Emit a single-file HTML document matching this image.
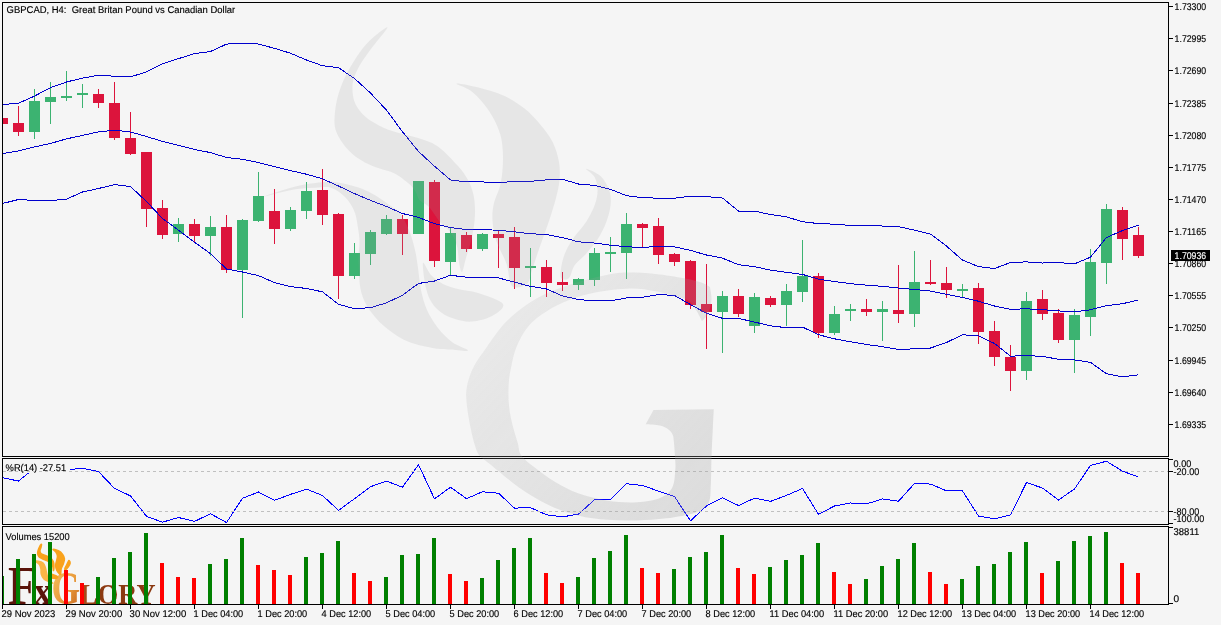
<!DOCTYPE html>
<html><head><meta charset="utf-8"><title>GBPCAD H4</title>
<style>html,body{margin:0;padding:0;background:#f5f5f5;width:1221px;height:625px;overflow:hidden;position:relative}
text{white-space:pre}</style></head>
<body>
<svg width="1221" height="625" viewBox="0 0 1221 625" style="position:absolute;left:0;top:0;will-change:transform">
<defs><clipPath id="cm"><rect x="3" y="3" width="1165" height="453"/></clipPath><clipPath id="cw"><rect x="3" y="459" width="1165" height="65"/></clipPath><clipPath id="cwm"><rect x="3" y="3" width="1165" height="521"/></clipPath><clipPath id="cv"><rect x="3" y="527" width="1165" height="77"/></clipPath></defs>
<g clip-path="url(#cm)">
<g shape-rendering="crispEdges">
<rect x="-3" y="118" width="11" height="6" fill="#dc143c"/>
<rect x="18" y="106" width="1" height="30" fill="#dc143c"/>
<rect x="13" y="123" width="11" height="9" fill="#dc143c"/>
<rect x="34" y="89" width="1" height="50" fill="#3cb371"/>
<rect x="29" y="101" width="11" height="31" fill="#3cb371"/>
<rect x="50" y="82" width="1" height="42" fill="#3cb371"/>
<rect x="45" y="97" width="11" height="5" fill="#3cb371"/>
<rect x="66" y="71" width="1" height="30" fill="#3cb371"/>
<rect x="61" y="96" width="11" height="2" fill="#3cb371"/>
<rect x="82" y="84" width="1" height="24" fill="#3cb371"/>
<rect x="77" y="93" width="11" height="2" fill="#3cb371"/>
<rect x="98" y="89" width="1" height="19" fill="#dc143c"/>
<rect x="93" y="94" width="11" height="9" fill="#dc143c"/>
<rect x="114" y="82" width="1" height="58" fill="#dc143c"/>
<rect x="109" y="103" width="11" height="35" fill="#dc143c"/>
<rect x="130" y="112" width="1" height="43" fill="#dc143c"/>
<rect x="125" y="138" width="11" height="16" fill="#dc143c"/>
<rect x="146" y="152" width="1" height="75" fill="#dc143c"/>
<rect x="141" y="152" width="11" height="57" fill="#dc143c"/>
<rect x="162" y="200" width="1" height="39" fill="#dc143c"/>
<rect x="157" y="208" width="11" height="27" fill="#dc143c"/>
<rect x="178" y="218" width="1" height="24" fill="#3cb371"/>
<rect x="173" y="224" width="11" height="10" fill="#3cb371"/>
<rect x="194" y="219" width="1" height="24" fill="#dc143c"/>
<rect x="189" y="224" width="11" height="12" fill="#dc143c"/>
<rect x="210" y="216" width="1" height="40" fill="#3cb371"/>
<rect x="205" y="227" width="11" height="9" fill="#3cb371"/>
<rect x="226" y="215" width="1" height="58" fill="#dc143c"/>
<rect x="221" y="227" width="11" height="43" fill="#dc143c"/>
<rect x="242" y="219" width="1" height="99" fill="#3cb371"/>
<rect x="237" y="220" width="11" height="50" fill="#3cb371"/>
<rect x="258" y="172" width="1" height="50" fill="#3cb371"/>
<rect x="253" y="196" width="11" height="25" fill="#3cb371"/>
<rect x="274" y="189" width="1" height="55" fill="#dc143c"/>
<rect x="269" y="211" width="11" height="18" fill="#dc143c"/>
<rect x="290" y="207" width="1" height="24" fill="#3cb371"/>
<rect x="285" y="210" width="11" height="19" fill="#3cb371"/>
<rect x="306" y="182" width="1" height="37" fill="#3cb371"/>
<rect x="301" y="191" width="11" height="20" fill="#3cb371"/>
<rect x="322" y="169" width="1" height="56" fill="#dc143c"/>
<rect x="317" y="190" width="11" height="25" fill="#dc143c"/>
<rect x="338" y="213" width="1" height="86" fill="#dc143c"/>
<rect x="333" y="214" width="11" height="62" fill="#dc143c"/>
<rect x="354" y="243" width="1" height="36" fill="#3cb371"/>
<rect x="349" y="253" width="11" height="23" fill="#3cb371"/>
<rect x="370" y="230" width="1" height="35" fill="#3cb371"/>
<rect x="365" y="232" width="11" height="22" fill="#3cb371"/>
<rect x="386" y="215" width="1" height="20" fill="#3cb371"/>
<rect x="381" y="219" width="11" height="15" fill="#3cb371"/>
<rect x="402" y="215" width="1" height="40" fill="#dc143c"/>
<rect x="397" y="219" width="11" height="15" fill="#dc143c"/>
<rect x="418" y="181" width="1" height="53" fill="#3cb371"/>
<rect x="413" y="181" width="11" height="53" fill="#3cb371"/>
<rect x="434" y="180" width="1" height="87" fill="#dc143c"/>
<rect x="429" y="182" width="11" height="79" fill="#dc143c"/>
<rect x="450" y="228" width="1" height="48" fill="#3cb371"/>
<rect x="445" y="233" width="11" height="29" fill="#3cb371"/>
<rect x="466" y="232" width="1" height="20" fill="#dc143c"/>
<rect x="461" y="235" width="11" height="14" fill="#dc143c"/>
<rect x="482" y="233" width="1" height="18" fill="#3cb371"/>
<rect x="477" y="234" width="11" height="15" fill="#3cb371"/>
<rect x="498" y="231" width="1" height="37" fill="#dc143c"/>
<rect x="493" y="234" width="11" height="4" fill="#dc143c"/>
<rect x="514" y="227" width="1" height="62" fill="#dc143c"/>
<rect x="509" y="237" width="11" height="31" fill="#dc143c"/>
<rect x="530" y="248" width="1" height="49" fill="#3cb371"/>
<rect x="525" y="266" width="11" height="2" fill="#3cb371"/>
<rect x="546" y="260" width="1" height="37" fill="#dc143c"/>
<rect x="541" y="267" width="11" height="16" fill="#dc143c"/>
<rect x="562" y="272" width="1" height="19" fill="#dc143c"/>
<rect x="557" y="282" width="11" height="3" fill="#dc143c"/>
<rect x="578" y="278" width="1" height="12" fill="#3cb371"/>
<rect x="573" y="279" width="11" height="6" fill="#3cb371"/>
<rect x="594" y="248" width="1" height="38" fill="#3cb371"/>
<rect x="589" y="253" width="11" height="27" fill="#3cb371"/>
<rect x="610" y="237" width="1" height="35" fill="#3cb371"/>
<rect x="605" y="252" width="11" height="2" fill="#3cb371"/>
<rect x="626" y="213" width="1" height="66" fill="#3cb371"/>
<rect x="621" y="224" width="11" height="29" fill="#3cb371"/>
<rect x="642" y="223" width="1" height="24" fill="#dc143c"/>
<rect x="637" y="224" width="11" height="4" fill="#dc143c"/>
<rect x="658" y="218" width="1" height="46" fill="#dc143c"/>
<rect x="653" y="226" width="11" height="29" fill="#dc143c"/>
<rect x="674" y="253" width="1" height="13" fill="#dc143c"/>
<rect x="669" y="254" width="11" height="8" fill="#dc143c"/>
<rect x="690" y="260" width="1" height="49" fill="#dc143c"/>
<rect x="685" y="261" width="11" height="44" fill="#dc143c"/>
<rect x="706" y="264" width="1" height="85" fill="#dc143c"/>
<rect x="701" y="304" width="11" height="8" fill="#dc143c"/>
<rect x="722" y="291" width="1" height="62" fill="#3cb371"/>
<rect x="717" y="296" width="11" height="16" fill="#3cb371"/>
<rect x="738" y="289" width="1" height="28" fill="#dc143c"/>
<rect x="733" y="296" width="11" height="18" fill="#dc143c"/>
<rect x="754" y="293" width="1" height="40" fill="#3cb371"/>
<rect x="749" y="297" width="11" height="29" fill="#3cb371"/>
<rect x="770" y="296" width="1" height="11" fill="#dc143c"/>
<rect x="765" y="298" width="11" height="7" fill="#dc143c"/>
<rect x="786" y="284" width="1" height="42" fill="#3cb371"/>
<rect x="781" y="291" width="11" height="14" fill="#3cb371"/>
<rect x="802" y="240" width="1" height="62" fill="#3cb371"/>
<rect x="797" y="276" width="11" height="16" fill="#3cb371"/>
<rect x="818" y="273" width="1" height="65" fill="#dc143c"/>
<rect x="813" y="276" width="11" height="57" fill="#dc143c"/>
<rect x="834" y="306" width="1" height="29" fill="#3cb371"/>
<rect x="829" y="314" width="11" height="19" fill="#3cb371"/>
<rect x="850" y="304" width="1" height="17" fill="#3cb371"/>
<rect x="845" y="309" width="11" height="2" fill="#3cb371"/>
<rect x="866" y="299" width="1" height="17" fill="#dc143c"/>
<rect x="861" y="309" width="11" height="3" fill="#dc143c"/>
<rect x="882" y="301" width="1" height="40" fill="#3cb371"/>
<rect x="877" y="309" width="11" height="3" fill="#3cb371"/>
<rect x="898" y="265" width="1" height="58" fill="#dc143c"/>
<rect x="893" y="310" width="11" height="4" fill="#dc143c"/>
<rect x="914" y="251" width="1" height="76" fill="#3cb371"/>
<rect x="909" y="282" width="11" height="32" fill="#3cb371"/>
<rect x="930" y="260" width="1" height="25" fill="#dc143c"/>
<rect x="925" y="282" width="11" height="2" fill="#dc143c"/>
<rect x="946" y="267" width="1" height="31" fill="#dc143c"/>
<rect x="941" y="283" width="11" height="7" fill="#dc143c"/>
<rect x="962" y="284" width="1" height="14" fill="#3cb371"/>
<rect x="957" y="289" width="11" height="2" fill="#3cb371"/>
<rect x="978" y="283" width="1" height="61" fill="#dc143c"/>
<rect x="973" y="288" width="11" height="44" fill="#dc143c"/>
<rect x="994" y="321" width="1" height="45" fill="#dc143c"/>
<rect x="989" y="331" width="11" height="26" fill="#dc143c"/>
<rect x="1010" y="345" width="1" height="46" fill="#dc143c"/>
<rect x="1005" y="357" width="11" height="14" fill="#dc143c"/>
<rect x="1026" y="292" width="1" height="88" fill="#3cb371"/>
<rect x="1021" y="301" width="11" height="70" fill="#3cb371"/>
<rect x="1042" y="290" width="1" height="30" fill="#dc143c"/>
<rect x="1037" y="299" width="11" height="15" fill="#dc143c"/>
<rect x="1058" y="309" width="1" height="34" fill="#dc143c"/>
<rect x="1053" y="313" width="11" height="27" fill="#dc143c"/>
<rect x="1074" y="309" width="1" height="64" fill="#3cb371"/>
<rect x="1069" y="315" width="11" height="25" fill="#3cb371"/>
<rect x="1090" y="249" width="1" height="87" fill="#3cb371"/>
<rect x="1085" y="262" width="11" height="55" fill="#3cb371"/>
<rect x="1106" y="204" width="1" height="80" fill="#3cb371"/>
<rect x="1101" y="209" width="11" height="54" fill="#3cb371"/>
<rect x="1122" y="207" width="1" height="53" fill="#dc143c"/>
<rect x="1117" y="210" width="11" height="29" fill="#dc143c"/>
<rect x="1138" y="227" width="1" height="31" fill="#dc143c"/>
<rect x="1133" y="235" width="11" height="21" fill="#dc143c"/>
</g>
<g fill="none" stroke="#0000cd" stroke-width="1" shape-rendering="crispEdges">
<polyline points="2.5,104.50 18.5,103.22 34.5,96.10 50.5,87.69 66.5,82.00 82.5,78.07 98.5,75.30 114.5,76.22 130.5,76.89 146.5,71.87 162.5,63.74 178.5,58.65 194.5,53.59 210.5,51.51 226.5,44.12 242.5,43.06 258.5,44.06 274.5,48.37 290.5,53.23 306.5,60.01 322.5,65.76 338.5,67.71 354.5,78.51 370.5,93.03 386.5,110.15 402.5,131.77 418.5,151.44 434.5,166.17 450.5,179.94 466.5,181.96 482.5,181.96 498.5,182.55 514.5,181.48 530.5,181.28 546.5,179.90 562.5,179.36 578.5,184.01 594.5,185.38 610.5,189.35 626.5,195.68 642.5,197.68 658.5,198.18 674.5,198.22 690.5,196.24 706.5,196.65 722.5,198.01 738.5,211.08 754.5,211.13 770.5,214.52 786.5,216.86 802.5,221.73 818.5,223.59 834.5,224.17 850.5,225.51 866.5,225.71 882.5,226.02 898.5,226.68 914.5,230.13 930.5,234.05 946.5,246.12 962.5,260.05 978.5,266.60 994.5,268.52 1010.5,262.47 1026.5,261.87 1042.5,263.02 1058.5,262.55 1074.5,263.82 1090.5,257.16 1106.5,237.52 1122.5,230.54 1138.5,225.06"/>
<polyline points="2.5,153.62 18.5,150.85 34.5,146.91 50.5,143.43 66.5,138.89 82.5,135.41 98.5,131.83 114.5,130.20 130.5,132.03 146.5,136.48 162.5,141.43 178.5,145.48 194.5,149.49 210.5,152.59 226.5,157.52 242.5,159.26 258.5,162.56 274.5,166.57 290.5,170.57 306.5,174.25 322.5,178.80 338.5,186.00 354.5,193.60 370.5,200.35 386.5,206.50 402.5,213.50 418.5,217.45 434.5,223.60 450.5,227.60 466.5,229.60 482.5,229.60 498.5,230.25 514.5,231.85 530.5,233.80 546.5,234.45 562.5,237.65 578.5,241.80 594.5,243.05 610.5,245.15 626.5,246.80 642.5,247.45 658.5,246.40 674.5,246.80 690.5,250.40 706.5,255.00 722.5,258.15 738.5,264.75 754.5,266.60 770.5,270.15 786.5,272.30 802.5,274.40 818.5,279.15 834.5,281.50 850.5,283.65 866.5,285.10 882.5,286.35 898.5,288.05 914.5,289.50 930.5,291.05 946.5,294.30 962.5,297.40 978.5,301.25 994.5,306.00 1010.5,309.30 1026.5,308.80 1042.5,309.65 1058.5,310.95 1074.5,311.85 1090.5,309.75 1106.5,305.65 1122.5,303.75 1138.5,299.90"/>
<polyline points="2.5,203.50 18.5,199.50 34.5,200.50 50.5,200.50 66.5,199.20 82.5,192.00 98.5,188.50 114.5,184.60 130.5,186.50 146.5,201.50 162.5,218.50 178.5,230.13 194.5,242.22 210.5,253.63 226.5,269.01 242.5,272.00 258.5,275.62 274.5,282.58 290.5,286.56 306.5,288.49 322.5,291.84 338.5,304.29 354.5,308.69 370.5,307.67 386.5,302.85 402.5,295.23 418.5,283.46 434.5,281.03 450.5,275.26 466.5,277.24 482.5,277.24 498.5,277.95 514.5,282.22 530.5,286.32 546.5,289.00 562.5,295.94 578.5,299.59 594.5,300.72 610.5,300.95 626.5,297.92 642.5,297.22 658.5,294.62 674.5,295.38 690.5,304.56 706.5,313.35 722.5,318.29 738.5,318.42 754.5,322.07 770.5,325.78 786.5,327.74 802.5,327.07 818.5,334.71 834.5,338.83 850.5,341.79 866.5,344.49 882.5,346.68 898.5,349.42 914.5,348.87 930.5,348.05 946.5,342.48 962.5,334.75 978.5,335.90 994.5,343.48 1010.5,356.13 1026.5,355.73 1042.5,356.28 1058.5,359.35 1074.5,359.88 1090.5,362.34 1106.5,373.78 1122.5,376.96 1138.5,374.74"/>
</g>
</g>
<g fill="none" stroke="#000" stroke-width="1" shape-rendering="crispEdges">
<rect x="2.5" y="2.5" width="1166" height="454"/>
<rect x="2.5" y="458.5" width="1166" height="66"/>
<rect x="2.5" y="526.5" width="1166" height="78"/>
</g>
<g shape-rendering="crispEdges" fill="#000">
<rect x="1169" y="6" width="4" height="1"/>
<rect x="1169" y="38" width="4" height="1"/>
<rect x="1169" y="70" width="4" height="1"/>
<rect x="1169" y="103" width="4" height="1"/>
<rect x="1169" y="135" width="4" height="1"/>
<rect x="1169" y="167" width="4" height="1"/>
<rect x="1169" y="199" width="4" height="1"/>
<rect x="1169" y="231" width="4" height="1"/>
<rect x="1169" y="263" width="4" height="1"/>
<rect x="1169" y="295" width="4" height="1"/>
<rect x="1169" y="327" width="4" height="1"/>
<rect x="1169" y="360" width="4" height="1"/>
<rect x="1169" y="392" width="4" height="1"/>
<rect x="1169" y="424" width="4" height="1"/>
<rect x="1169" y="459" width="4" height="1"/>
<rect x="1169" y="471" width="4" height="1"/>
<rect x="1169" y="511" width="4" height="1"/>
<rect x="1169" y="523" width="4" height="1"/>
<rect x="1169" y="527" width="4" height="1"/>
<rect x="1169" y="603" width="4" height="1"/>
<rect x="2" y="605" width="1" height="4"/>
<rect x="66" y="605" width="1" height="4"/>
<rect x="130" y="605" width="1" height="4"/>
<rect x="194" y="605" width="1" height="4"/>
<rect x="258" y="605" width="1" height="4"/>
<rect x="322" y="605" width="1" height="4"/>
<rect x="386" y="605" width="1" height="4"/>
<rect x="450" y="605" width="1" height="4"/>
<rect x="514" y="605" width="1" height="4"/>
<rect x="578" y="605" width="1" height="4"/>
<rect x="642" y="605" width="1" height="4"/>
<rect x="706" y="605" width="1" height="4"/>
<rect x="770" y="605" width="1" height="4"/>
<rect x="834" y="605" width="1" height="4"/>
<rect x="898" y="605" width="1" height="4"/>
<rect x="962" y="605" width="1" height="4"/>
<rect x="1026" y="605" width="1" height="4"/>
<rect x="1090" y="605" width="1" height="4"/>
</g>
<text text-rendering="geometricPrecision" x="1174.6" y="10.30" font-family="'Liberation Sans', Arial, sans-serif" font-size="9.8px" fill="#000" stroke="#000" stroke-width="0.15" textLength="31.6" lengthAdjust="spacingAndGlyphs">1.73300</text>
<text text-rendering="geometricPrecision" x="1174.6" y="42.30" font-family="'Liberation Sans', Arial, sans-serif" font-size="9.8px" fill="#000" stroke="#000" stroke-width="0.15" textLength="31.6" lengthAdjust="spacingAndGlyphs">1.72995</text>
<text text-rendering="geometricPrecision" x="1174.6" y="74.30" font-family="'Liberation Sans', Arial, sans-serif" font-size="9.8px" fill="#000" stroke="#000" stroke-width="0.15" textLength="31.6" lengthAdjust="spacingAndGlyphs">1.72690</text>
<text text-rendering="geometricPrecision" x="1174.6" y="107.30" font-family="'Liberation Sans', Arial, sans-serif" font-size="9.8px" fill="#000" stroke="#000" stroke-width="0.15" textLength="31.6" lengthAdjust="spacingAndGlyphs">1.72385</text>
<text text-rendering="geometricPrecision" x="1174.6" y="139.30" font-family="'Liberation Sans', Arial, sans-serif" font-size="9.8px" fill="#000" stroke="#000" stroke-width="0.15" textLength="31.6" lengthAdjust="spacingAndGlyphs">1.72080</text>
<text text-rendering="geometricPrecision" x="1174.6" y="171.30" font-family="'Liberation Sans', Arial, sans-serif" font-size="9.8px" fill="#000" stroke="#000" stroke-width="0.15" textLength="31.6" lengthAdjust="spacingAndGlyphs">1.71775</text>
<text text-rendering="geometricPrecision" x="1174.6" y="203.30" font-family="'Liberation Sans', Arial, sans-serif" font-size="9.8px" fill="#000" stroke="#000" stroke-width="0.15" textLength="31.6" lengthAdjust="spacingAndGlyphs">1.71470</text>
<text text-rendering="geometricPrecision" x="1174.6" y="235.30" font-family="'Liberation Sans', Arial, sans-serif" font-size="9.8px" fill="#000" stroke="#000" stroke-width="0.15" textLength="31.6" lengthAdjust="spacingAndGlyphs">1.71165</text>
<text text-rendering="geometricPrecision" x="1174.6" y="267.30" font-family="'Liberation Sans', Arial, sans-serif" font-size="9.8px" fill="#000" stroke="#000" stroke-width="0.15" textLength="31.6" lengthAdjust="spacingAndGlyphs">1.70860</text>
<text text-rendering="geometricPrecision" x="1174.6" y="299.30" font-family="'Liberation Sans', Arial, sans-serif" font-size="9.8px" fill="#000" stroke="#000" stroke-width="0.15" textLength="31.6" lengthAdjust="spacingAndGlyphs">1.70555</text>
<text text-rendering="geometricPrecision" x="1174.6" y="331.30" font-family="'Liberation Sans', Arial, sans-serif" font-size="9.8px" fill="#000" stroke="#000" stroke-width="0.15" textLength="31.6" lengthAdjust="spacingAndGlyphs">1.70250</text>
<text text-rendering="geometricPrecision" x="1174.6" y="364.30" font-family="'Liberation Sans', Arial, sans-serif" font-size="9.8px" fill="#000" stroke="#000" stroke-width="0.15" textLength="31.6" lengthAdjust="spacingAndGlyphs">1.69945</text>
<text text-rendering="geometricPrecision" x="1174.6" y="396.30" font-family="'Liberation Sans', Arial, sans-serif" font-size="9.8px" fill="#000" stroke="#000" stroke-width="0.15" textLength="31.6" lengthAdjust="spacingAndGlyphs">1.69640</text>
<text text-rendering="geometricPrecision" x="1174.6" y="428.30" font-family="'Liberation Sans', Arial, sans-serif" font-size="9.8px" fill="#000" stroke="#000" stroke-width="0.15" textLength="31.6" lengthAdjust="spacingAndGlyphs">1.69335</text>
<rect x="1171" y="250" width="39" height="11" fill="#000" shape-rendering="crispEdges"/>
<text text-rendering="geometricPrecision" x="1174.6" y="259.30" font-family="'Liberation Sans', Arial, sans-serif" font-size="9.8px" fill="#fff" stroke="#fff" stroke-width="0.15" textLength="31.6" lengthAdjust="spacingAndGlyphs">1.70936</text>
<g clip-path="url(#cw)">
<polyline fill="none" stroke="#0000ff" stroke-width="1" shape-rendering="crispEdges" points="2.5,477.60 18.5,481.10 34.5,468.00 50.5,466.00 66.5,469.80 82.5,468.30 98.5,471.60 114.5,488.40 130.5,495.90 146.5,516.30 162.5,522.20 178.5,517.50 194.5,521.40 210.5,513.76 226.5,522.54 242.5,498.26 258.5,492.02 274.5,500.35 290.5,494.36 306.5,489.19 322.5,495.45 338.5,510.39 354.5,498.68 370.5,486.74 386.5,481.12 402.5,487.18 418.5,464.69 434.5,498.85 450.5,487.18 466.5,498.69 482.5,491.75 498.5,493.24 514.5,508.12 530.5,507.62 546.5,514.82 562.5,516.88 578.5,514.12 594.5,499.78 610.5,499.22 626.5,483.78 642.5,485.43 658.5,491.11 674.5,496.51 690.5,520.81 706.5,505.96 722.5,497.72 738.5,505.54 754.5,498.18 770.5,501.40 786.5,495.41 802.5,488.51 818.5,514.29 834.5,506.00 850.5,502.96 866.5,503.92 882.5,498.93 898.5,501.21 914.5,483.50 930.5,484.07 946.5,490.86 962.5,490.86 978.5,516.04 994.5,518.89 1010.5,514.97 1026.5,482.52 1042.5,488.05 1058.5,500.02 1074.5,488.97 1090.5,465.40 1106.5,461.22 1122.5,471.20 1138.5,477.05"/>
<rect x="3" y="459" width="67" height="14" fill="#f5f5f5"/>
<g stroke="#c0c0c0" stroke-width="1" stroke-dasharray="3 3" shape-rendering="crispEdges">
<line x1="3" y1="471.5" x2="1168" y2="471.5"/><line x1="3" y1="511.5" x2="1168" y2="511.5"/>
</g>
<text text-rendering="geometricPrecision" x="5.6" y="471.30" font-family="'Liberation Sans', Arial, sans-serif" font-size="9.8px" fill="#000" stroke="#000" stroke-width="0.15" textLength="60.6" lengthAdjust="spacingAndGlyphs">%R(14) -27.51</text>
</g>
<g clip-path="url(#cwm)"><defs><linearGradient id="wmg" gradientUnits="userSpaceOnUse" x1="470" y1="300" x2="712" y2="520"><stop offset="0" stop-color="#a0a0a0" stop-opacity="0.12"/><stop offset="1" stop-color="#a0a0a0" stop-opacity="0.30"/></linearGradient></defs><g fill="#a0a0a0" fill-opacity="0.170"><path d="M387.5,27.5 C387.1,29.3 378.1,39.6 373.6,45.6 C369.2,51.6 364.1,58.0 360.8,63.5 C357.5,69.0 355.1,74.2 353.7,78.9 C352.3,83.6 352.3,87.4 352.6,91.7 C352.9,96.0 353.5,100.2 355.7,104.5 C357.9,108.8 361.4,113.4 366.0,117.3 C370.6,121.2 377.5,124.9 383.6,127.7 C389.7,130.5 396.4,132.2 402.8,134.1 C409.2,136.0 415.9,137.1 421.9,139.2 C427.9,141.3 432.6,142.4 438.6,146.9 C444.6,151.4 453.1,160.5 458.0,166.0 C462.9,171.5 465.4,175.2 468.0,180.0 C470.6,184.8 472.3,189.3 473.5,195.0 C474.7,200.7 475.2,207.0 475.0,214.0 C474.8,221.0 473.5,229.7 472.0,237.0 C470.5,244.3 467.7,252.2 466.0,258.0 C464.3,263.8 463.2,271.3 462.0,272.0 C460.8,272.7 459.8,266.3 459.0,262.0 C458.2,257.7 458.3,250.8 457.0,246.0 C455.7,241.2 453.8,237.0 451.0,233.0 C448.2,229.0 443.7,226.3 440.0,222.0 C436.3,217.7 432.4,210.7 429.0,207.0 C425.6,203.3 421.6,202.6 419.4,200.0 C417.1,197.4 417.2,194.3 415.5,191.6 C413.8,188.9 412.6,187.0 409.2,184.0 C405.8,181.0 400.0,176.3 395.1,173.7 C390.2,171.1 384.8,170.5 379.7,168.6 C374.6,166.7 369.1,164.8 364.4,162.2 C359.7,159.6 355.2,156.5 351.6,153.3 C348.0,150.1 345.2,146.6 342.6,143.0 C340.0,139.4 337.6,135.3 336.2,131.5 C334.8,127.7 334.4,124.9 334.5,120.0 C334.6,115.1 335.2,108.0 336.5,102.0 C337.8,96.0 339.6,90.0 342.0,84.0 C344.4,78.0 347.5,72.0 351.0,66.0 C354.5,60.0 358.8,53.2 363.0,48.0 C367.2,42.8 371.9,38.4 376.0,35.0 C380.1,31.6 387.9,25.7 387.5,27.5Z"/><path d="M264.0,196.5 C264.0,196.3 271.8,193.6 276.0,192.2 C280.2,190.8 284.7,189.4 289.0,188.2 C293.3,187.0 297.6,185.9 302.0,185.0 C306.4,184.1 310.8,183.5 315.5,183.0 C320.2,182.5 324.6,181.6 330.0,181.8 C335.4,182.0 342.3,183.2 347.6,184.4 C352.9,185.6 357.2,186.8 362.0,188.7 C366.8,190.6 371.6,193.0 376.4,195.9 C381.2,198.8 386.9,203.1 390.8,206.0 C394.7,208.9 397.0,209.2 400.0,213.2 C403.0,217.2 406.5,223.9 409.0,230.0 C411.5,236.1 413.5,243.7 415.0,250.0 C416.5,256.3 417.0,261.3 418.0,268.0 C419.0,274.7 419.5,283.0 421.0,290.0 C422.5,297.0 424.2,303.7 427.0,310.0 C429.8,316.3 433.8,322.7 438.0,328.0 C442.2,333.3 447.0,338.2 452.0,342.0 C457.0,345.8 468.3,349.2 468.0,350.5 C467.7,351.8 455.7,349.9 450.0,349.5 C444.3,349.1 440.8,349.4 434.0,348.2 C427.2,346.9 416.6,345.1 409.0,342.0 C401.4,338.9 394.4,334.4 388.2,329.5 C382.0,324.6 376.1,319.1 371.6,312.8 C367.1,306.6 363.4,300.6 361.2,292.0 C359.0,283.4 358.8,269.3 358.5,261.0 C358.2,252.7 359.6,247.5 359.5,242.0 C359.4,236.5 358.8,232.8 358.0,228.0 C357.2,223.2 356.5,217.4 355.0,213.0 C353.5,208.6 351.4,205.0 349.0,201.7 C346.6,198.4 343.6,195.4 340.4,193.0 C337.2,190.6 334.1,188.3 330.0,187.4 C325.9,186.5 320.2,187.6 315.5,187.8 C310.8,188.0 306.4,188.0 302.0,188.4 C297.6,188.8 293.3,189.6 289.0,190.4 C284.7,191.2 280.2,192.4 276.0,193.4 C271.8,194.4 264.0,196.7 264.0,196.5Z"/><path d="M423.0,263.0 C423.8,260.8 427.7,271.5 431.0,275.0 C434.3,278.5 438.5,281.7 443.0,284.0 C447.5,286.3 452.2,287.5 458.0,289.0 C463.8,290.5 470.5,290.5 478.0,293.0 C485.5,295.5 500.7,300.2 503.0,304.0 C505.3,307.8 497.2,313.1 492.0,316.0 C486.8,318.9 478.2,321.1 472.0,321.6 C465.8,322.1 460.0,320.4 455.0,319.0 C450.0,317.6 445.8,315.7 442.0,313.0 C438.2,310.3 434.7,307.2 432.0,303.0 C429.3,298.8 427.5,294.7 426.0,288.0 C424.5,281.3 422.2,265.2 423.0,263.0Z"/><path d="M456.6,83.6 C457.9,83.1 470.5,85.6 478.4,87.6 C486.3,89.6 496.3,92.3 504.0,95.8 C511.7,99.3 518.5,103.9 524.5,108.6 C530.5,113.3 535.1,118.5 539.8,124.0 C544.5,129.6 549.4,135.6 552.6,141.9 C555.8,148.2 557.9,155.7 559.0,162.0 C560.1,168.3 560.0,174.0 559.5,180.0 C559.0,186.0 557.6,191.7 556.0,198.0 C554.4,204.3 552.2,211.3 550.0,218.0 C547.8,224.7 545.2,231.8 543.0,238.0 C540.8,244.2 538.8,249.7 537.0,255.0 C535.2,260.3 533.7,265.2 532.0,270.0 C530.3,274.8 530.3,281.3 527.0,284.0 C523.7,286.7 515.4,289.3 512.0,286.0 C508.6,282.7 509.2,271.5 506.6,264.0 C504.0,256.5 498.7,248.2 496.3,241.0 C493.9,233.8 492.9,226.8 492.5,220.5 C492.1,214.2 492.7,208.8 494.0,203.0 C495.3,197.2 498.8,191.3 500.2,185.4 C501.6,179.5 502.3,173.5 502.7,167.5 C503.1,161.5 503.1,155.2 502.7,149.6 C502.3,144.0 501.7,139.3 500.2,134.2 C498.7,129.1 496.6,124.0 493.8,118.9 C491.0,113.8 487.4,108.2 483.5,103.5 C479.6,98.8 475.2,94.0 470.7,90.7 C466.2,87.4 455.3,84.1 456.6,83.6Z"/><path d="M586.0,168.7 C587.0,168.5 596.6,172.4 600.5,176.0 C604.4,179.6 607.5,185.5 609.2,190.3 C610.9,195.1 611.1,199.5 610.6,204.8 C610.1,210.1 608.5,216.2 606.3,222.0 C604.1,227.8 601.0,234.0 597.6,239.3 C594.2,244.6 589.9,249.4 586.1,253.7 C582.3,258.0 577.5,261.2 574.6,265.3 C571.8,269.4 571.3,275.9 569.0,278.0 C566.7,280.1 562.2,280.1 561.0,278.0 C559.8,275.9 560.8,269.8 561.6,265.3 C562.4,260.8 563.8,255.7 566.0,250.9 C568.2,246.1 571.2,241.3 574.6,236.5 C578.0,231.7 582.7,227.3 586.1,222.0 C589.5,216.7 592.9,210.1 594.8,204.8 C596.7,199.5 597.6,194.9 597.6,190.3 C597.6,185.7 596.7,181.0 594.8,177.4 C592.9,173.8 585.0,168.9 586.0,168.7Z"/></g><path fill="url(#wmg)" d="M710.0,287.0 C708.6,286.3 705.7,284.1 701.4,282.6 C697.1,281.1 691.7,279.6 684.0,278.2 C676.3,276.8 664.9,274.8 655.3,273.9 C645.7,272.9 634.3,272.4 626.5,272.5 C618.7,272.6 616.6,272.9 608.6,274.5 C600.6,276.1 588.7,278.9 578.8,281.9 C568.9,284.9 557.9,288.3 549.0,292.3 C540.1,296.3 532.6,300.5 525.2,305.7 C517.8,310.9 510.8,316.7 504.4,323.6 C497.9,330.6 491.5,340.5 486.5,347.4 C481.5,354.3 477.6,359.6 474.6,365.0 C471.6,370.4 469.9,375.4 468.5,380.0 C467.1,384.6 466.5,388.5 466.2,392.8 C465.9,397.1 466.5,401.3 466.9,405.6 C467.3,409.9 468.1,414.1 468.8,418.4 C469.5,422.7 470.4,426.9 471.3,431.2 C472.2,435.5 473.2,440.0 474.5,444.0 C475.8,448.0 476.5,451.7 479.0,455.0 C481.5,458.3 482.8,458.4 489.5,463.8 C496.2,469.2 509.2,480.5 519.0,487.4 C528.8,494.3 538.7,500.3 548.5,505.0 C558.3,509.7 568.2,512.9 578.0,515.4 C587.8,517.9 597.7,519.0 607.5,519.8 C617.3,520.6 627.2,520.6 637.0,520.4 C646.8,520.1 656.6,519.6 666.4,518.3 C676.2,517.0 688.9,514.9 695.9,512.4 C702.9,509.8 706.0,507.7 708.5,503.0 C711.0,498.3 710.3,492.1 710.8,484.4 C711.3,476.7 711.1,466.6 711.5,457.0 C711.9,447.4 712.5,434.9 712.9,427.0 C713.3,419.1 713.6,412.2 713.8,409.3 L653.5,409.9 L645.7,424.2 C648.1,424.4 656.2,424.7 660.0,425.6 C663.8,426.5 666.4,427.9 668.5,429.5 C670.6,431.1 671.9,432.8 672.8,435.0 C673.7,437.2 673.6,439.3 674.0,443.0 C674.4,446.7 674.8,452.6 675.0,457.0 C675.2,461.4 675.8,464.6 675.3,469.7 C674.8,474.8 674.8,482.7 672.3,487.4 C669.8,492.1 666.4,495.2 660.5,497.7 C654.6,500.2 645.8,501.7 637.0,502.2 C628.2,502.7 617.3,502.2 607.5,500.7 C597.7,499.2 586.9,496.5 578.0,493.3 C569.1,490.1 561.8,485.9 554.4,481.5 C547.0,477.1 539.3,471.2 533.7,466.8 C528.1,462.4 523.6,458.8 521.0,455.0 C518.4,451.2 519.1,448.0 518.0,444.0 C516.9,440.0 515.4,435.5 514.2,431.2 C513.0,426.9 511.9,422.7 511.0,418.4 C510.1,414.1 509.4,409.9 509.0,405.6 C508.6,401.3 508.4,397.1 508.4,392.8 C508.4,388.5 508.6,384.1 509.0,380.0 C509.4,375.9 509.8,373.4 511.0,368.0 C512.2,362.6 513.4,354.3 516.3,347.4 C519.2,340.5 523.2,332.4 528.2,326.5 C533.2,320.6 539.0,316.1 546.0,311.7 C553.0,307.2 561.4,303.0 569.9,299.8 C578.4,296.6 586.7,294.2 596.7,292.3 C606.7,290.4 620.2,288.7 630.0,288.5 C639.8,288.3 647.2,289.8 655.3,291.2 C663.3,292.6 672.7,295.4 678.3,297.0 C683.9,298.6 686.0,298.8 689.0,301.0 C692.0,303.2 693.8,306.7 696.0,310.0 C698.2,313.3 701.0,319.2 702.0,321.0 C703.0,319.8 706.4,317.5 708.0,314.0 C709.6,310.5 711.2,304.5 711.5,300.0 C711.8,295.5 710.2,289.2 710.0,287.0Z"/></g>
<text text-rendering="geometricPrecision" x="1173.6" y="467.30" font-family="'Liberation Sans', Arial, sans-serif" font-size="9.8px" fill="#000" stroke="#000" stroke-width="0.15" textLength="17.6" lengthAdjust="spacingAndGlyphs">0.00</text>
<text text-rendering="geometricPrecision" x="1173.6" y="475.30" font-family="'Liberation Sans', Arial, sans-serif" font-size="9.8px" fill="#000" stroke="#000" stroke-width="0.15" textLength="25.6" lengthAdjust="spacingAndGlyphs">-20.00</text>
<text text-rendering="geometricPrecision" x="1173.6" y="515.30" font-family="'Liberation Sans', Arial, sans-serif" font-size="9.8px" fill="#000" stroke="#000" stroke-width="0.15" textLength="25.6" lengthAdjust="spacingAndGlyphs">-80.00</text>
<text text-rendering="geometricPrecision" x="1173.6" y="522.30" font-family="'Liberation Sans', Arial, sans-serif" font-size="9.8px" fill="#000" stroke="#000" stroke-width="0.15" textLength="30.6" lengthAdjust="spacingAndGlyphs">-100.00</text>
<text text-rendering="geometricPrecision" x="1173.6" y="535.30" font-family="'Liberation Sans', Arial, sans-serif" font-size="9.8px" fill="#000" stroke="#000" stroke-width="0.15" textLength="25.6" lengthAdjust="spacingAndGlyphs">38811</text>
<text text-rendering="geometricPrecision" x="1173.6" y="602.30" font-family="'Liberation Sans', Arial, sans-serif" font-size="9.8px" fill="#000" stroke="#000" stroke-width="0.15" textLength="5.6" lengthAdjust="spacingAndGlyphs">0</text>
<g clip-path="url(#cv)">
<defs><linearGradient id="gg" x1="0" y1="0" x2="1" y2="1"><stop offset="0" stop-color="#f7c766"/><stop offset="0.55" stop-color="#e99a3a"/><stop offset="1" stop-color="#c05a18"/></linearGradient><linearGradient id="lg" x1="0" y1="0" x2="1" y2="0"><stop offset="0" stop-color="#b0501a"/><stop offset="0.25" stop-color="#8c3a12"/><stop offset="1" stop-color="#8a3810"/></linearGradient></defs><g><text transform="translate(7.90,604.4) scale(0.890,1)" font-family="'Liberation Serif',serif" font-weight="bold" font-size="54px" fill="#5a140a">F</text><text transform="translate(33.80,604.4) scale(0.930,1)" font-family="'Liberation Serif',serif" font-weight="bold" font-size="38px" fill="#5a140a">x</text><text transform="translate(51.60,604.0) scale(0.800,1)" font-family="'Liberation Serif',serif" font-weight="bold" font-size="46.0px" fill="url(#gg)">G</text><text transform="translate(80.10,604.0) scale(0.896,1)" font-family="'Liberation Serif',serif" font-weight="bold" font-size="29.5px" fill="url(#lg)">LORY</text><g fill="#f9a21c" stroke="#f9a21c" stroke-width="1.6" stroke-linejoin="round"><path d="M41.3,544.3 C41.7,544.1 41.2,546.1 41.0,547.2 C40.8,548.3 39.9,549.7 39.9,550.8 C39.9,551.9 40.1,552.9 41.0,553.7 C41.9,554.5 43.8,554.8 45.3,555.5 C46.8,556.2 49.0,557.0 50.3,558.0 C51.6,559.0 52.6,560.3 53.2,561.6 C53.8,562.9 53.9,564.4 53.9,565.9 C53.9,567.4 53.7,570.4 53.5,570.5 C53.3,570.6 53.3,567.9 52.9,566.7 C52.5,565.5 51.9,564.1 51.0,563.1 C50.1,562.1 48.9,561.6 47.5,560.9 C46.1,560.2 43.9,559.4 42.4,558.7 C40.9,558.0 39.6,557.6 38.8,556.6 C38.0,555.6 37.7,554.3 37.7,553.0 C37.7,551.7 38.2,550.1 38.8,548.6 C39.4,547.1 40.9,544.5 41.3,544.3Z"/><path d="M53.2,549.4 C53.6,549.2 56.7,550.0 58.3,550.8 C59.9,551.6 61.6,553.1 62.6,554.4 C63.6,555.7 64.3,557.1 64.4,558.7 C64.5,560.3 63.8,562.1 63.3,563.8 C62.8,565.5 61.5,567.1 61.1,568.8 C60.7,570.5 60.9,573.1 60.6,574.0 C60.3,574.9 60.1,574.5 59.5,573.9 C58.9,573.3 57.4,571.8 56.8,570.3 C56.2,568.8 55.7,566.9 55.7,565.2 C55.7,563.5 56.5,561.8 56.8,560.2 C57.1,558.7 57.6,557.2 57.5,555.9 C57.4,554.6 56.8,553.3 56.1,552.2 C55.4,551.1 52.8,549.6 53.2,549.4Z"/><path d="M69.1,560.5 C69.4,560.8 70.2,562.1 70.1,563.1 C70.0,564.1 69.1,565.6 68.3,566.7 C67.5,567.8 65.8,569.6 65.3,569.8 C64.8,570.0 64.8,569.0 65.1,568.1 C65.4,567.2 66.4,565.6 66.9,564.5 C67.4,563.4 67.9,562.3 68.3,561.6 C68.7,560.9 68.8,560.2 69.1,560.5Z"/><path d="M48.9,573.9 C49.3,573.6 51.2,574.1 52.5,574.5 C53.8,574.9 56.0,575.7 56.8,576.2 C57.6,576.8 57.9,577.5 57.3,577.8 C56.7,578.1 54.2,578.4 53.0,578.2 C51.8,578.0 50.7,577.2 50.0,576.5 C49.3,575.8 48.5,574.2 48.9,573.9Z"/></g><path fill="#fbb548" stroke="#fbb548" stroke-width="1.6" stroke-linejoin="round" d="M33.0,561.6 C33.4,561.4 37.1,561.0 38.8,561.3 C40.5,561.5 42.0,562.1 43.1,563.1 C44.2,564.1 44.8,565.9 45.3,567.4 C45.8,568.9 46.0,570.7 46.4,572.4 C46.8,574.1 47.0,575.9 47.8,577.5 C48.6,579.1 50.2,580.8 51.0,581.8 C51.8,582.8 53.0,583.2 52.8,583.2 C52.6,583.2 51.1,582.5 49.6,581.8 C48.1,581.1 45.3,580.2 43.9,578.9 C42.5,577.6 41.8,575.6 41.3,573.9 C40.8,572.2 41.3,570.4 41.0,568.8 C40.7,567.2 40.2,565.6 39.5,564.5 C38.8,563.4 37.7,562.8 36.6,562.3 C35.5,561.8 32.6,561.8 33.0,561.6Z"/></g>
<g shape-rendering="crispEdges">
<rect x="0" y="576" width="4" height="28" fill="#008000"/>
<rect x="16" y="559" width="4" height="45" fill="#008000"/>
<rect x="32" y="554" width="4" height="50" fill="#008000"/>
<rect x="48" y="542" width="4" height="62" fill="#008000"/>
<rect x="64" y="570" width="4" height="34" fill="#ff0000"/>
<rect x="80" y="583" width="4" height="21" fill="#ff0000"/>
<rect x="96" y="577" width="4" height="27" fill="#008000"/>
<rect x="112" y="558" width="4" height="46" fill="#008000"/>
<rect x="128" y="552" width="4" height="52" fill="#008000"/>
<rect x="144" y="533" width="4" height="71" fill="#008000"/>
<rect x="160" y="563" width="4" height="41" fill="#ff0000"/>
<rect x="176" y="577" width="4" height="27" fill="#ff0000"/>
<rect x="192" y="578" width="4" height="26" fill="#ff0000"/>
<rect x="208" y="564" width="4" height="40" fill="#008000"/>
<rect x="224" y="559" width="4" height="45" fill="#008000"/>
<rect x="240" y="538" width="4" height="66" fill="#008000"/>
<rect x="256" y="565" width="4" height="39" fill="#ff0000"/>
<rect x="272" y="570" width="4" height="34" fill="#ff0000"/>
<rect x="288" y="575" width="4" height="29" fill="#ff0000"/>
<rect x="304" y="557" width="4" height="47" fill="#008000"/>
<rect x="320" y="553" width="4" height="51" fill="#008000"/>
<rect x="336" y="541" width="4" height="63" fill="#008000"/>
<rect x="352" y="573" width="4" height="31" fill="#ff0000"/>
<rect x="368" y="581" width="4" height="23" fill="#ff0000"/>
<rect x="384" y="577" width="4" height="27" fill="#008000"/>
<rect x="400" y="555" width="4" height="49" fill="#008000"/>
<rect x="416" y="554" width="4" height="50" fill="#008000"/>
<rect x="432" y="538" width="4" height="66" fill="#008000"/>
<rect x="448" y="574" width="4" height="30" fill="#ff0000"/>
<rect x="464" y="581" width="4" height="23" fill="#ff0000"/>
<rect x="480" y="578" width="4" height="26" fill="#008000"/>
<rect x="496" y="560" width="4" height="44" fill="#008000"/>
<rect x="512" y="548" width="4" height="56" fill="#008000"/>
<rect x="528" y="538" width="4" height="66" fill="#008000"/>
<rect x="544" y="573" width="4" height="31" fill="#ff0000"/>
<rect x="560" y="583" width="4" height="21" fill="#ff0000"/>
<rect x="576" y="577" width="4" height="27" fill="#008000"/>
<rect x="592" y="558" width="4" height="46" fill="#008000"/>
<rect x="608" y="551" width="4" height="53" fill="#008000"/>
<rect x="624" y="535" width="4" height="69" fill="#008000"/>
<rect x="640" y="568" width="4" height="36" fill="#ff0000"/>
<rect x="656" y="573" width="4" height="31" fill="#ff0000"/>
<rect x="672" y="569" width="4" height="35" fill="#008000"/>
<rect x="688" y="557" width="4" height="47" fill="#008000"/>
<rect x="704" y="552" width="4" height="52" fill="#008000"/>
<rect x="720" y="535" width="4" height="69" fill="#008000"/>
<rect x="736" y="568" width="4" height="36" fill="#ff0000"/>
<rect x="752" y="574" width="4" height="30" fill="#ff0000"/>
<rect x="768" y="567" width="4" height="37" fill="#008000"/>
<rect x="784" y="560" width="4" height="44" fill="#008000"/>
<rect x="800" y="555" width="4" height="49" fill="#008000"/>
<rect x="816" y="543" width="4" height="61" fill="#008000"/>
<rect x="832" y="572" width="4" height="32" fill="#ff0000"/>
<rect x="848" y="584" width="4" height="20" fill="#ff0000"/>
<rect x="864" y="579" width="4" height="25" fill="#008000"/>
<rect x="880" y="566" width="4" height="38" fill="#008000"/>
<rect x="896" y="559" width="4" height="45" fill="#008000"/>
<rect x="912" y="543" width="4" height="61" fill="#008000"/>
<rect x="928" y="572" width="4" height="32" fill="#ff0000"/>
<rect x="944" y="584" width="4" height="20" fill="#ff0000"/>
<rect x="960" y="579" width="4" height="25" fill="#008000"/>
<rect x="976" y="566" width="4" height="38" fill="#008000"/>
<rect x="992" y="564" width="4" height="40" fill="#008000"/>
<rect x="1008" y="552" width="4" height="52" fill="#008000"/>
<rect x="1024" y="542" width="4" height="62" fill="#008000"/>
<rect x="1040" y="573" width="4" height="31" fill="#ff0000"/>
<rect x="1056" y="561" width="4" height="43" fill="#008000"/>
<rect x="1072" y="541" width="4" height="63" fill="#008000"/>
<rect x="1088" y="536" width="4" height="68" fill="#008000"/>
<rect x="1104" y="532" width="4" height="72" fill="#008000"/>
<rect x="1120" y="563" width="4" height="41" fill="#ff0000"/>
<rect x="1136" y="573" width="4" height="31" fill="#ff0000"/>
</g>
<text text-rendering="geometricPrecision" x="5.6" y="540.30" font-family="'Liberation Sans', Arial, sans-serif" font-size="9.8px" fill="#000" stroke="#000" stroke-width="0.15" textLength="64.1" lengthAdjust="spacingAndGlyphs">Volumes 15200</text>
</g>
<text text-rendering="geometricPrecision" x="1.6" y="617.30" font-family="'Liberation Sans', Arial, sans-serif" font-size="9.8px" fill="#000" stroke="#000" stroke-width="0.15" textLength="53.6" lengthAdjust="spacingAndGlyphs">29 Nov 2023</text>
<text text-rendering="geometricPrecision" x="65.6" y="617.30" font-family="'Liberation Sans', Arial, sans-serif" font-size="9.8px" fill="#000" stroke="#000" stroke-width="0.15" textLength="56.6" lengthAdjust="spacingAndGlyphs">29 Nov 20:00</text>
<text text-rendering="geometricPrecision" x="129.6" y="617.30" font-family="'Liberation Sans', Arial, sans-serif" font-size="9.8px" fill="#000" stroke="#000" stroke-width="0.15" textLength="56.6" lengthAdjust="spacingAndGlyphs">30 Nov 12:00</text>
<text text-rendering="geometricPrecision" x="193.6" y="617.30" font-family="'Liberation Sans', Arial, sans-serif" font-size="9.8px" fill="#000" stroke="#000" stroke-width="0.15" textLength="49.6" lengthAdjust="spacingAndGlyphs">1 Dec 04:00</text>
<text text-rendering="geometricPrecision" x="257.6" y="617.30" font-family="'Liberation Sans', Arial, sans-serif" font-size="9.8px" fill="#000" stroke="#000" stroke-width="0.15" textLength="49.6" lengthAdjust="spacingAndGlyphs">1 Dec 20:00</text>
<text text-rendering="geometricPrecision" x="321.6" y="617.30" font-family="'Liberation Sans', Arial, sans-serif" font-size="9.8px" fill="#000" stroke="#000" stroke-width="0.15" textLength="49.6" lengthAdjust="spacingAndGlyphs">4 Dec 12:00</text>
<text text-rendering="geometricPrecision" x="385.6" y="617.30" font-family="'Liberation Sans', Arial, sans-serif" font-size="9.8px" fill="#000" stroke="#000" stroke-width="0.15" textLength="49.6" lengthAdjust="spacingAndGlyphs">5 Dec 04:00</text>
<text text-rendering="geometricPrecision" x="449.6" y="617.30" font-family="'Liberation Sans', Arial, sans-serif" font-size="9.8px" fill="#000" stroke="#000" stroke-width="0.15" textLength="49.6" lengthAdjust="spacingAndGlyphs">5 Dec 20:00</text>
<text text-rendering="geometricPrecision" x="513.6" y="617.30" font-family="'Liberation Sans', Arial, sans-serif" font-size="9.8px" fill="#000" stroke="#000" stroke-width="0.15" textLength="49.6" lengthAdjust="spacingAndGlyphs">6 Dec 12:00</text>
<text text-rendering="geometricPrecision" x="577.6" y="617.30" font-family="'Liberation Sans', Arial, sans-serif" font-size="9.8px" fill="#000" stroke="#000" stroke-width="0.15" textLength="49.6" lengthAdjust="spacingAndGlyphs">7 Dec 04:00</text>
<text text-rendering="geometricPrecision" x="641.6" y="617.30" font-family="'Liberation Sans', Arial, sans-serif" font-size="9.8px" fill="#000" stroke="#000" stroke-width="0.15" textLength="49.6" lengthAdjust="spacingAndGlyphs">7 Dec 20:00</text>
<text text-rendering="geometricPrecision" x="705.6" y="617.30" font-family="'Liberation Sans', Arial, sans-serif" font-size="9.8px" fill="#000" stroke="#000" stroke-width="0.15" textLength="49.6" lengthAdjust="spacingAndGlyphs">8 Dec 12:00</text>
<text text-rendering="geometricPrecision" x="769.6" y="617.30" font-family="'Liberation Sans', Arial, sans-serif" font-size="9.8px" fill="#000" stroke="#000" stroke-width="0.15" textLength="54.6" lengthAdjust="spacingAndGlyphs">11 Dec 04:00</text>
<text text-rendering="geometricPrecision" x="833.6" y="617.30" font-family="'Liberation Sans', Arial, sans-serif" font-size="9.8px" fill="#000" stroke="#000" stroke-width="0.15" textLength="54.6" lengthAdjust="spacingAndGlyphs">11 Dec 20:00</text>
<text text-rendering="geometricPrecision" x="897.6" y="617.30" font-family="'Liberation Sans', Arial, sans-serif" font-size="9.8px" fill="#000" stroke="#000" stroke-width="0.15" textLength="54.6" lengthAdjust="spacingAndGlyphs">12 Dec 12:00</text>
<text text-rendering="geometricPrecision" x="961.6" y="617.30" font-family="'Liberation Sans', Arial, sans-serif" font-size="9.8px" fill="#000" stroke="#000" stroke-width="0.15" textLength="54.6" lengthAdjust="spacingAndGlyphs">13 Dec 04:00</text>
<text text-rendering="geometricPrecision" x="1025.6" y="617.30" font-family="'Liberation Sans', Arial, sans-serif" font-size="9.8px" fill="#000" stroke="#000" stroke-width="0.15" textLength="54.6" lengthAdjust="spacingAndGlyphs">13 Dec 20:00</text>
<text text-rendering="geometricPrecision" x="1089.6" y="617.30" font-family="'Liberation Sans', Arial, sans-serif" font-size="9.8px" fill="#000" stroke="#000" stroke-width="0.15" textLength="54.6" lengthAdjust="spacingAndGlyphs">14 Dec 12:00</text>
<text text-rendering="geometricPrecision" x="6.6" y="13.30" font-family="'Liberation Sans', Arial, sans-serif" font-size="9.8px" fill="#000" stroke="#000" stroke-width="0.15" textLength="228.6" lengthAdjust="spacingAndGlyphs">GBPCAD, H4:  Great Britan Pound vs Canadian Dollar</text>
</svg>
</body></html>
